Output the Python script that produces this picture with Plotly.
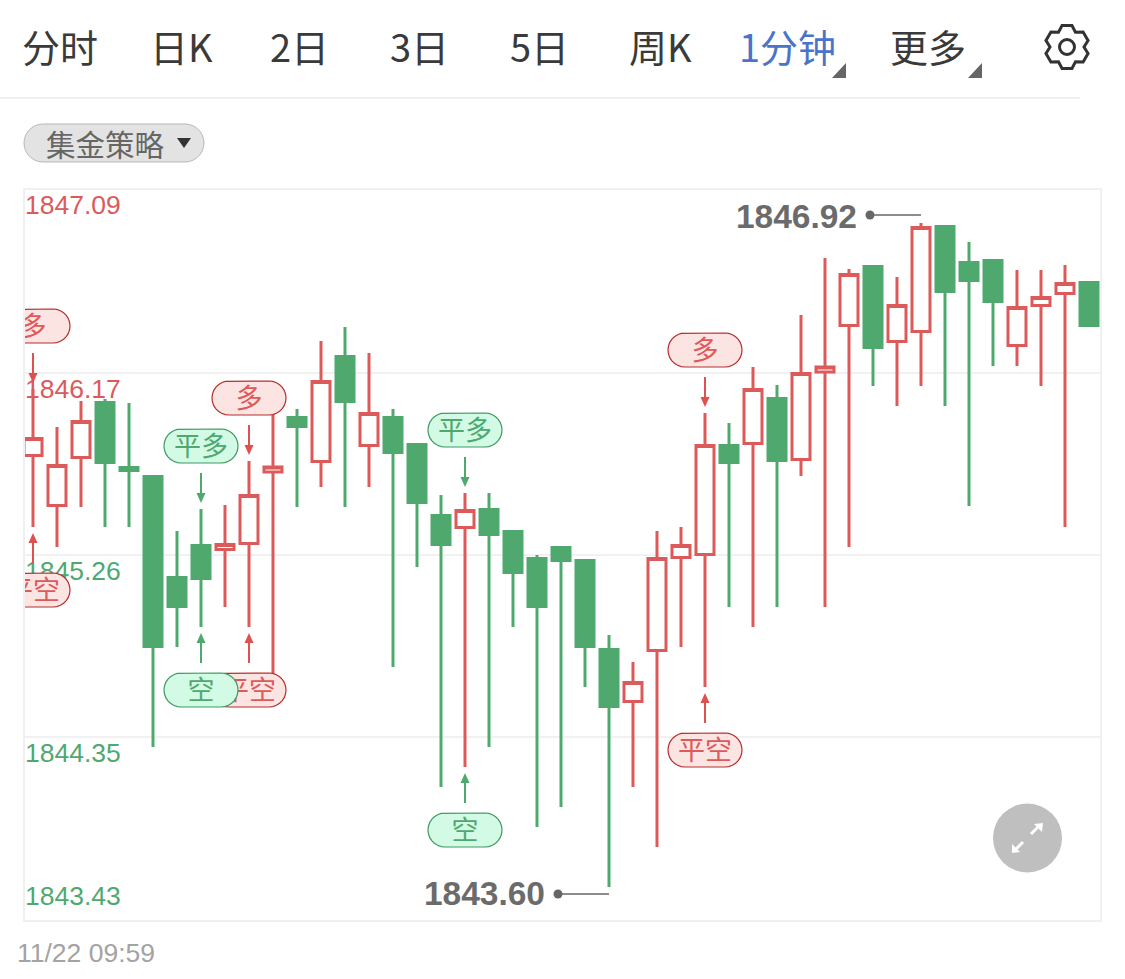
import math
import plotly.graph_objects as go

# ---------- data ----------
opens = [1845.758,1845.508,1845.748,1846.022,1845.698,1845.652,1845.148,1845.308,1845.288,1845.318,
         1845.675,1845.948,1845.728,1846.252,1845.808,1845.948,1845.812,1845.458,1845.398,1845.488,
         1845.378,1845.242,1845.298,1845.232,1844.788,1844.528,1844.782,1845.248,1845.262,1845.808,
         1845.818,1846.042,1845.738,1846.175,1846.408,1846.702,1846.328,1846.378,1846.902,1846.722,
         1846.732,1846.308,1846.508,1846.568,1846.622]
highs = [1846.09,1845.90,1846.03,1846.04,1846.02,1845.652,1845.38,1845.49,1845.51,1845.73,
         1846.035,1845.99,1846.33,1846.40,1846.27,1845.99,1845.812,1845.56,1845.57,1845.57,
         1845.378,1845.26,1845.298,1845.232,1844.86,1844.725,1845.38,1845.40,1845.97,1845.92,
         1846.20,1846.11,1846.46,1846.745,1846.69,1846.702,1846.65,1846.92,1846.902,1846.825,
         1846.732,1846.685,1846.685,1846.71,1846.622]
lows = [1845.40,1845.30,1845.50,1845.40,1845.40,1844.30,1844.80,1844.90,1845.00,1844.90,
        1844.585,1845.50,1845.60,1845.50,1845.60,1844.70,1845.20,1844.10,1844.20,1844.30,
        1844.90,1843.90,1844.00,1844.60,1843.60,1844.10,1843.80,1844.80,1844.60,1845.00,
        1844.90,1845.00,1845.655,1845.00,1845.30,1846.105,1846.005,1846.105,1846.005,1845.505,
        1846.205,1846.205,1846.105,1845.40,1846.408]
closes = [1845.842,1845.708,1845.928,1845.722,1845.682,1844.802,1845.002,1845.142,1845.312,1845.558,
          1845.700,1845.902,1846.128,1846.028,1845.968,1845.772,1845.522,1845.312,1845.482,1845.362,
          1845.172,1845.002,1845.232,1844.802,1844.502,1844.622,1845.242,1845.308,1845.808,1845.722,
          1846.088,1845.732,1846.168,1846.200,1846.662,1846.298,1846.508,1846.898,1846.578,1846.632,
          1846.528,1846.498,1846.548,1846.618,1846.408]

axis_values = [1847.09, 1846.17, 1845.26, 1844.35, 1843.43]
axis_labels = ["1847.09", "1846.17", "1845.26", "1844.35", "1843.43"]

signal_candle = [0, 0, 9, 9, 7, 7, 18, 18, 28, 28]
signal_side = ["above", "below"] * 5
signal_text = ["多", "平空", "多", "平空", "平多", "空", "平多", "空", "多", "平空"]

tab_labels = ["分时", "日K", "2日", "3日", "5日", "周K", "1分钟", "更多"]
strategy_label = "集金策略"
footer_time = "11/22 09:59"
peak_value = 1846.92
trough_value = 1843.60

# ---------- styles ----------
RED, GREEN = "#dc5a5a", "#4fa96f"
ARROW_RED, ARROW_GREEN = "#e0504f", "#4fa96f"
RED_FILL, RED_EDGE = "#fce4e3", "#b5302e"
GREEN_FILL, GREEN_EDGE = "#d3fae5", "#3f9a63"
GRID = "#f1f1f1"
CJK = "Noto Sans CJK SC"
LATIN = "Liberation Sans"

L, R, T, B = 24, 1101, 189, 921
X_RANGE = [-0.375, 44.5]
Y_RANGE = [1843.43, 1847.09]
X_PER_PX = (X_RANGE[1] - X_RANGE[0]) / (R - L)
Y_PER_PX = (Y_RANGE[1] - Y_RANGE[0]) / (B - T)


def fx(px):
    return (px - L) / (R - L)


def fy(py):
    return (B - py) / (B - T)


def pill(cx, cy, w=74, h=34, n=14):
    """Rounded capsule outline around a data-space centre, sized in pixels."""
    r = h / 2
    xs, ys = [], []
    for side, a0 in ((1, -90), (-1, 90)):
        for i in range(n + 1):
            a = math.radians(a0 + 180 * i / n)
            xs.append(cx + side * (w / 2 - r) * X_PER_PX + r * math.cos(a) * X_PER_PX)
            ys.append(cy + r * math.sin(a) * Y_PER_PX)
    xs.append(xs[0])
    ys.append(ys[0])
    return xs, ys


fig = go.Figure()

# axis labels, drawn first so candles and signal capsules sit over them
for v, lab in zip(axis_values, axis_labels):
    off = -23 if v == axis_values[-1] else 18.5
    fig.add_trace(go.Scatter(
        x=[X_RANGE[0] + X_PER_PX], y=[v - off * Y_PER_PX], mode="text", text=[lab],
        textposition="middle right", cliponaxis=True,
        textfont=dict(family=LATIN, size=26.5, color=RED if v > 1845.7 else GREEN),
        showlegend=False, hoverinfo="skip"))

# candles
fig.add_trace(go.Candlestick(
    x=list(range(len(opens))), open=opens, high=highs, low=lows, close=closes,
    increasing=dict(line=dict(color=RED, width=3), fillcolor="#ffffff"),
    decreasing=dict(line=dict(color=GREEN, width=3), fillcolor=GREEN),
    whiskerwidth=0, showlegend=False, hoverinfo="skip"))

# signals
for idx, side, txt in zip(signal_candle, signal_side, signal_text):
    is_red = txt in ("多", "平空")
    arrow = ARROW_RED if is_red else ARROW_GREEN
    sgn = 1 if side == "above" else -1
    base = highs[idx] if side == "above" else lows[idx]
    tip = base + sgn * 6 * Y_PER_PX
    neck = base + sgn * 16 * Y_PER_PX
    tail = base + sgn * 36 * Y_PER_PX
    mid = base + sgn * 63 * Y_PER_PX
    fig.add_trace(go.Scatter(x=[idx, idx], y=[tail, neck], mode="lines",
                             line=dict(color=arrow, width=2),
                             showlegend=False, hoverinfo="skip"))
    hx = [idx - 4.5 * X_PER_PX, idx + 4.5 * X_PER_PX, idx, idx - 4.5 * X_PER_PX]
    fig.add_trace(go.Scatter(x=hx, y=[neck, neck, tip, neck], mode="lines", fill="toself",
                             fillcolor=arrow, line=dict(color=arrow, width=0),
                             showlegend=False, hoverinfo="skip"))
    xs, ys = pill(idx, mid)
    fig.add_trace(go.Scatter(x=xs, y=ys, mode="lines", fill="toself",
                             fillcolor=RED_FILL if is_red else GREEN_FILL,
                             line=dict(color=RED_EDGE if is_red else GREEN_EDGE, width=1.2),
                             showlegend=False, hoverinfo="skip"))
    fig.add_trace(go.Scatter(x=[idx], y=[mid - 3 * Y_PER_PX], mode="text", text=[txt],
                             textposition="middle center",
                             textfont=dict(family=CJK, size=27, color=RED if is_red else GREEN),
                             showlegend=False, hoverinfo="skip"))

# peak and trough callouts
peak_idx = highs.index(peak_value)
trough_idx = lows.index(trough_value)
for idx, val, off, text_off in ((peak_idx, peak_value, 8, 5), (trough_idx, trough_value, -7, 3)):
    yy = val + off * Y_PER_PX
    dot = idx - 51 * X_PER_PX
    fig.add_trace(go.Scatter(x=[idx, dot], y=[yy, yy], mode="lines",
                             line=dict(color="#666666", width=1.5),
                             showlegend=False, hoverinfo="skip"))
    fig.add_trace(go.Scatter(x=[dot], y=[yy], mode="markers",
                             marker=dict(color="#666666", size=9),
                             showlegend=False, hoverinfo="skip"))
    fig.add_trace(go.Scatter(x=[dot - 13 * X_PER_PX], y=[yy - text_off * Y_PER_PX], mode="text",
                             text=[f"{val:.2f}"], textposition="middle left",
                             textfont=dict(family=LATIN, size=33.5, color="#6b6b6b", weight=600),
                             showlegend=False, hoverinfo="skip"))

annotations = []


def add_text(text, px, py, size, color, family=CJK, anchor="center"):
    annotations.append(dict(text=text, x=fx(px), y=fy(py), xref="paper", yref="paper",
                            xanchor=anchor, yanchor="middle", showarrow=False,
                            font=dict(family=family, size=size, color=color)))


tab_centers = [60, 181, 299, 419, 539, 660, 787, 928]
for lab, cx in zip(tab_labels, tab_centers):
    add_text(lab, cx, 45, 38, "#4a74c9" if lab == "1分钟" else "#3a3a3a")
add_text(strategy_label, 105, 143, 29.5, "#666666")
add_text(footer_time, 15, 953, 26.5, "#a3a3a3", family=LATIN, anchor="left")

shapes = []


def poly(points, **kw):
    d = "M " + " L ".join(f"{fx(x):.5f},{fy(y):.5f}" for x, y in points) + " Z"
    shapes.append(dict(type="path", path=d, xref="paper", yref="paper", layer="above", **kw))


def seg(p, q, color, width):
    shapes.append(dict(type="line", x0=fx(p[0]), y0=fy(p[1]), x1=fx(q[0]), y1=fy(q[1]),
                       xref="paper", yref="paper", layer="above",
                       line=dict(color=color, width=width)))


# header rule and chart frame
seg((0, 98), (1080, 98), "#f0f0f0", 2)
shapes.append(dict(type="rect", x0=0, x1=1, y0=0, y1=1, xref="paper", yref="paper", layer="above",
                   line=dict(color="#f0f0f0", width=2), fillcolor="rgba(0,0,0,0)"))

# tab corner marks
for right in (846, 982):
    poly([(right - 14, 78), (right, 78), (right, 63)], fillcolor="#666666", line=dict(width=0))

# gear icon
gcx, gcy = 1067, 47
gear = []
for k in range(6):
    t = 90 + 60 * k
    for da, rad in ((-30, 17), (-13, 22), (13, 22), (30, 17)):
        a = math.radians(t + da)
        gear.append((gcx + rad * math.cos(a), gcy - rad * math.sin(a)))
poly(gear, fillcolor="rgba(0,0,0,0)", line=dict(color="#333333", width=3))
shapes.append(dict(type="circle", xref="paper", yref="paper", layer="above",
                   x0=fx(gcx - 7.5), x1=fx(gcx + 7.5), y0=fy(gcy + 7.5), y1=fy(gcy - 7.5),
                   line=dict(color="#333333", width=3)))

# strategy selector capsule
pts = []
for side, a0 in ((1, -90), (-1, 90)):
    for i in range(15):
        a = math.radians(a0 + 180 * i / 14)
        pts.append((114 + side * 71 + 19 * math.cos(a), 143 + 19 * math.sin(a)))
poly(pts, fillcolor="#e3e3e3", line=dict(color="#b8b8b8", width=1))
poly([(177, 138), (191, 138), (184, 148)], fillcolor="#333333", line=dict(width=0))

# expand button
shapes.append(dict(type="circle", xref="paper", yref="paper", layer="above",
                   x0=fx(993), x1=fx(1062), y0=fy(872.5), y1=fy(803.5),
                   fillcolor="#bfbfbf", line=dict(width=0)))
seg((1031, 834), (1038, 827), "#ffffff", 3)
poly([(1034, 824), (1043, 823), (1042, 832)], fillcolor="#ffffff", line=dict(width=0))
seg((1023, 842), (1016, 849), "#ffffff", 3)
poly([(1020, 852), (1012, 853), (1012, 844)], fillcolor="#ffffff", line=dict(width=0))

fig.update_layout(
    width=1125, height=979, autosize=False,
    margin=dict(l=L, r=1125 - R, t=T, b=979 - B, pad=0),
    paper_bgcolor="#ffffff", plot_bgcolor="#ffffff",
    showlegend=False, hovermode=False,
    boxgap=0.25, boxgroupgap=0,
    shapes=shapes, annotations=annotations,
    font=dict(family=CJK),
    xaxis=dict(range=X_RANGE, rangeslider=dict(visible=False), showgrid=False, zeroline=False,
               showticklabels=False, ticks="", showline=False, fixedrange=True),
    yaxis=dict(range=Y_RANGE, tickmode="array", tickvals=axis_values, showticklabels=False,
               showgrid=True, gridcolor=GRID, gridwidth=1.5, zeroline=False, ticks="",
               showline=False, fixedrange=True),
)

fig.write_html("out.html", config=dict(displayModeBar=False, responsive=False),
               post_script="document.body.style.margin='0';")
